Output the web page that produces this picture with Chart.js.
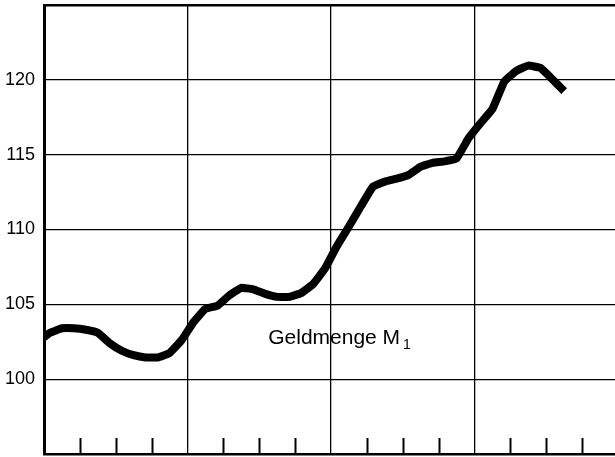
<!DOCTYPE html>
<html>
<head>
<meta charset="utf-8">
<script src="https://cdn.jsdelivr.net/npm/chart.js@4"></script>
<style>
  html, body { margin: 0; padding: 0; background: #fff; }
  #wrap { width: 615px; height: 457px; }
</style>
</head>
<body>
<div id="wrap"><canvas id="chart" width="615" height="457"></canvas></div>
<script>
// Geldmenge M1, monthly values (plotted mid-month), 4 years on the x axis
const startValue = 102.8; // where the curve meets the left border
const m1 = [
  103.1, 103.4, 103.4, 103.3, 103.1, 102.4, 101.9, 101.6, 101.45, 101.45, 101.75, 102.6,
  103.8, 104.7, 104.9, 105.6, 106.1, 106.0, 105.7, 105.5, 105.5, 105.75, 106.35, 107.4,
  108.9, 110.2, 111.55, 112.85, 113.2, 113.4, 113.65, 114.2, 114.45, 114.55, 114.75, 116.1,
  117.1, 118.05, 119.9, 120.6, 120.95, 120.8, 120.05, 119.25
];
const yTicks = [100, 105, 110, 115, 120];
const quarterMarks = [0, 3, 6, 9, 12, 15, 18, 21, 24, 27, 30, 33, 36, 39, 42, 45];
const seriesLabel = 'Geldmenge M';
const seriesSub = '1';
const labelAt = [18.75, 102.36]; // month, value

const points = [{ x: 0, y: startValue }];
m1.forEach((v, i) => points.push({ x: i + 0.5, y: v }));

const font = '"Liberation Sans", Arial, Helvetica, sans-serif';

const extras = {
  id: 'extras',
  afterDatasetsDraw(chart) {
    const { ctx, chartArea, scales: { x, y } } = chart;
    ctx.save();
    // short quarter marks standing on the bottom border
    ctx.strokeStyle = '#000';
    ctx.lineWidth = 2;
    x.ticks.forEach(t => {
      if (t.value % 12 !== 0) {
        const px = Math.round(x.getPixelForValue(t.value)) + 0.5;
        ctx.beginPath();
        ctx.moveTo(px, chartArea.bottom);
        ctx.lineTo(px, chartArea.bottom - 16);
        ctx.stroke();
      }
    });
    // series label
    const lx = x.getPixelForValue(labelAt[0]);
    const ly = y.getPixelForValue(labelAt[1]);
    ctx.fillStyle = '#000';
    ctx.textBaseline = 'alphabetic';
    ctx.font = '21px ' + font;
    ctx.fillText(seriesLabel, lx, ly);
    const w = ctx.measureText(seriesLabel).width;
    ctx.font = '14px ' + font;
    ctx.fillText(seriesSub, lx + w + 3, ly + 5);
    ctx.restore();
  }
};

new Chart(document.getElementById('chart'), {
  type: 'line',
  data: {
    datasets: [{
      data: points,
      borderColor: '#000',
      borderWidth: 8,
      borderJoinStyle: 'round',
      borderCapStyle: 'butt',
      pointRadius: 0,
      tension: 0.1,
      fill: false
    }]
  },
  options: {
    responsive: false,
    animation: false,
    devicePixelRatio: 1,
    layout: { autoPadding: false, padding: { top: 5, bottom: 3, left: 0, right: 0 } },
    plugins: { legend: { display: false }, tooltip: { enabled: false } },
    scales: {
      x: {
        type: 'linear',
        min: 0,
        max: 47.75,
        afterFit: s => { s.height = 0; s.paddingLeft = 0; s.paddingRight = 0; s.paddingTop = 0; s.paddingBottom = 0; },
        afterBuildTicks: s => { s.ticks = quarterMarks.map(v => ({ value: v })); },
        ticks: { display: false, padding: 0 },
        border: { display: true, color: '#000', width: 2.5 },
        grid: {
          drawTicks: false,
          color: c => (c.tick.value > 0 && c.tick.value % 12 === 0) ? '#000' : 'rgba(0,0,0,0)',
          lineWidth: 1.3
        }
      },
      y: {
        min: 95,
        max: 125,
        afterFit: s => { s.width = 44; s.paddingTop = 0; s.paddingBottom = 0; },
        afterBuildTicks: s => {
          s.ticks = [95].concat(yTicks, [125]).map(v => ({ value: v }));
        },
        ticks: {
          padding: 9,
          color: '#000',
          font: { family: font, size: 18 },
          callback: v => yTicks.includes(v) ? String(v) : ''
        },
        border: { display: true, color: '#000', width: 3 },
        grid: {
          drawTicks: false,
          color: '#000',
          lineWidth: c => c.tick.value === 125 ? 2.5 : 1.3
        }
      }
    }
  },
  plugins: [extras]
});
</script>
</body>
</html>
